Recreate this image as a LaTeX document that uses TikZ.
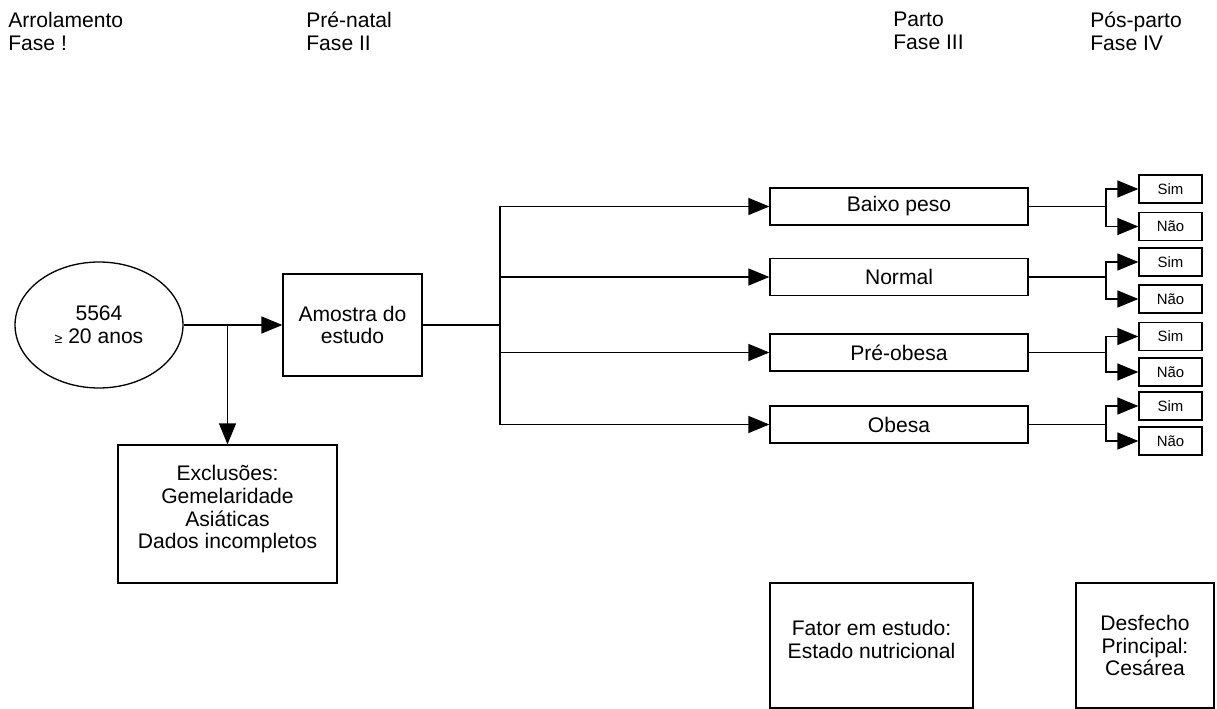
\documentclass[tikz,border=0pt]{standalone}
\usepackage{fontspec}
\setmainfont{Liberation Sans}
\usetikzlibrary{shapes.geometric, arrows.meta}
\tikzset{
	blk/.style ={rectangle, draw=black, line width=0.75pt, inner sep=0pt, align=center},
	popn/.style={ellipse, draw=black, line width=0.75pt, inner sep=0pt, align=center, minimum width=3.36cm, minimum height=2.52cm},
	catg/.style={blk, minimum width=5.16cm, minimum height=0.74cm},
	outc/.style={blk, minimum width=1.26cm, minimum height=0.56cm, font=\fontsize{8.5}{9}\selectfont},
	hdr/.style ={anchor=north west, align=left, inner sep=0pt},
	sig/.style ={-{Triangle[length=0.42cm, width=0.34cm]}, line width=0.75pt},
	wire/.style={line width=0.75pt},
}

\begin{document}
\begin{tikzpicture}[x=0.02cm, y=-0.02cm, font=\fontsize{12}{13}\selectfont]
	\useasboundingbox (0,0) rectangle (1217,709);
	% phase headers
	\node[hdr] (ph1) at (8,12) {Arrolamento\\Fase !};
	\node[hdr] (ph2) at (306,12) {Pré-natal\\Fase II};
	\node[hdr] (ph3) at (893,12) {Parto\\Fase III};
	\node[hdr] (ph4) at (1090,12) {Pós-parto\\Fase IV};
	% sample
	\node[popn] (pop) at (99,325) {5564\\{\footnotesize ≥} 20 anos};
	\node[blk, minimum width=2.78cm, minimum height=2.04cm] (amostra) at (352.5,325) {Amostra do\\estudo};
	\node[blk, minimum width=4.38cm, minimum height=2.76cm] (excl) at (227.5,514) {Exclusões:\\Gemelaridade\\Asiáticas\\Dados incompletos\\[-5pt]};
	\coordinate (bus) at (500,325);
	\draw[sig] (pop.east) -- (amostra.west);
	\draw[sig] (excl.north |- amostra.west) -- (excl.north);
	\draw[wire] (amostra.east) -- (bus);
	% nutritional state and outcome
	\foreach \nm/\yc/\txt/\ys/\yn in {1/206.5/Baixo peso/189/226.5, 2/277/Normal/262/299, 3/352.5/Pré-obesa/336.5/372, 4/424.5/Obesa/406/441} {
		\node[catg] (cat\nm) at (899,\yc) {\txt};
		\node[outc] (sim\nm) at (1170.5,\ys) {Sim};
		\node[outc] (nao\nm) at (1170.5,\yn) {Não};
		\coordinate (spl\nm) at (1106,\yc);
		\draw[sig] (bus) |- (cat\nm.west);
		\draw[wire] (cat\nm.east) -- (spl\nm);
		\draw[sig] (spl\nm) |- (sim\nm.west);
		\draw[sig] (spl\nm) |- (nao\nm.west);
	}
	% legend boxes
	\node[blk, minimum width=4.06cm, minimum height=2.5cm] (fator) at (871.5,645.5) {Fator em estudo:\\Estado nutricional\\[-6pt]};
	\node[blk, minimum width=2.76cm, minimum height=2.5cm] (desf) at (1145,645.5) {Desfecho\\Principal:\\Cesárea};
\end{tikzpicture}
\end{document}
